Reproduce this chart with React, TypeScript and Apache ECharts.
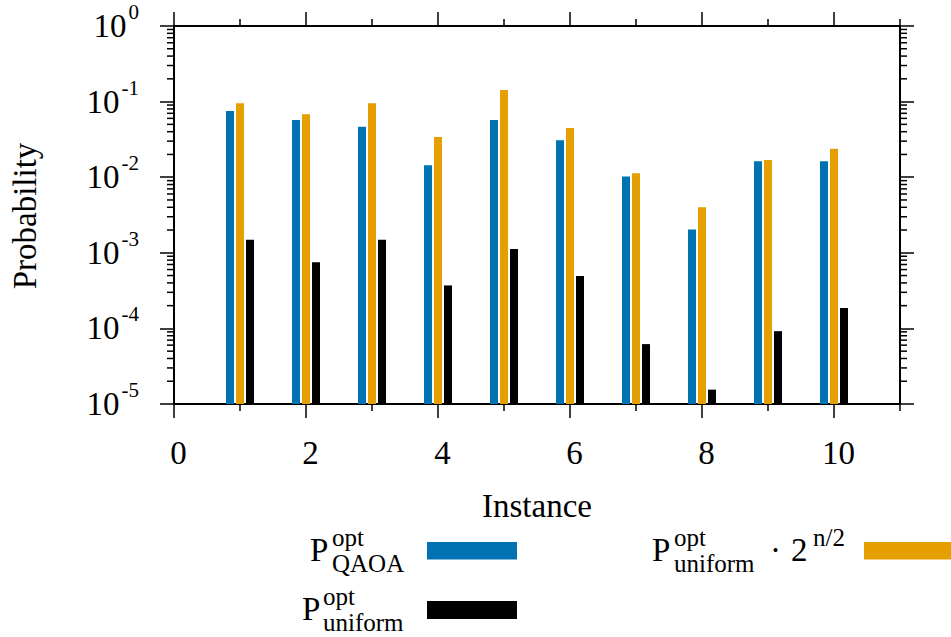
import React, { useEffect, useRef } from "react";
import * as echarts from "echarts";

const instances = [1, 2, 3, 4, 5, 6, 7, 8, 9, 10];
const pQaoa = [0.075, 0.057, 0.0466, 0.0144, 0.057, 0.0308, 0.0102, 0.00204, 0.0162, 0.0162];
const pUniformScaled = [0.095, 0.068, 0.095, 0.034, 0.142, 0.0448, 0.0113, 0.004, 0.0169, 0.0238];
const pUniform = [1.49e-3, 7.5e-4, 1.49e-3, 3.7e-4, 1.12e-3, 4.93e-4, 6.2e-5, 1.55e-5, 9.2e-5, 1.86e-4];
const xMajorTicks = [0, 2, 4, 6, 8, 10];
const xMinorTicks = [1, 3, 5, 7, 9, 11];
const yDecades = [-5, -4, -3, -2, -1];
const yMinorMultipliers = [2, 3, 4, 5, 6, 7, 8, 9];

const FONT = "'Liberation Serif', 'Times New Roman', serif";
const BLUE = "#0072B2";
const ORANGE = "#E69F00";
const BLACK = "#000000";

export default function App() {
  const ref = useRef<HTMLDivElement>(null);
  useEffect(() => {
    if (!ref.current) return;
    const chart = echarts.init(ref.current, null, { renderer: "svg" });

    // minor tick marks data: [x, y, side]
    const tickData: number[][] = [];
    yDecades.forEach((e) => {
      yMinorMultipliers.forEach((m) => {
        const v = m * Math.pow(10, e);
        tickData.push([0, v, 0]);
        tickData.push([11, v, 1]);
      });
    });
    xMinorTicks.forEach((x) => {
      tickData.push([x, 1e-5, 2]);
      tickData.push([x, 1, 3]);
    });

    const barSeries = (name: string, vals: number[], color: string) => ({
      name,
      type: "bar",
      xAxisIndex: 0,
      yAxisIndex: 0,
      barWidth: 8,
      barGap: "25%",
      data: instances.map((x, i) => [x, vals[i]]),
      itemStyle: { color },
    });

    const axisLineStyle = { color: "#000", width: 2 };

    const option: any = {
      animation: false,
      grid: { left: 174, top: 26, right: 51, bottom: 233, containLabel: false, outerBoundsMode: "none" },
      xAxis: [
        {
          type: "value",
          position: "bottom",
          min: 0,
          max: 11,
          interval: 2,
          axisLine: { show: true, onZero: false, lineStyle: axisLineStyle },
          axisTick: { show: true, inside: false, length: 14, lineStyle: { color: "#000", width: 1.5 }, customValues: xMajorTicks },
          axisLabel: {
            show: true,
            customValues: xMajorTicks,
            margin: 32,
            padding: [0, 0, 0, 9],
            color: "#000",
            fontFamily: FONT,
            fontSize: 33,
            formatter: (v: number) => (v % 2 === 0 ? String(v) : ""),
          },
          splitLine: { show: false },
        },
        {
          type: "value",
          position: "top",
          min: 0,
          max: 11,
          interval: 2,
          axisLine: { show: true, onZero: false, lineStyle: axisLineStyle },
          axisTick: { show: true, inside: false, length: 14, lineStyle: { color: "#000", width: 1.5 }, customValues: xMajorTicks },
          axisLabel: { show: false },
          splitLine: { show: false },
        },
      ],
      yAxis: [
        {
          type: "log",
          logBase: 10,
          position: "left",
          min: 1e-5,
          max: 1,
          startValue: 1e-5,
          axisLine: { show: true, onZero: false, lineStyle: axisLineStyle },
          axisTick: { show: true, inside: false, length: 14, lineStyle: { color: "#000", width: 1.5 } },
          axisLabel: {
            show: true,
            margin: 35,
            color: "#000",
            formatter: (v: number) => `{b|10}{s|${Math.round(Math.log10(v))}}`,
            rich: {
              b: { fontFamily: FONT, fontSize: 33, lineHeight: 49, color: "#000" },
              s: { fontFamily: FONT, fontSize: 21, verticalAlign: "top", color: "#000", padding: [0, 0, 0, 2] },
            },
          },
          splitLine: { show: false },
        },
        {
          type: "log",
          logBase: 10,
          position: "right",
          min: 1e-5,
          max: 1,
          startValue: 1e-5,
          axisLine: { show: true, onZero: false, lineStyle: axisLineStyle },
          axisTick: { show: true, inside: false, length: 14, lineStyle: { color: "#000", width: 1.5 } },
          axisLabel: { show: false },
          splitLine: { show: false },
        },
      ],
      series: [
        barSeries("P_QAOA^opt", pQaoa, BLUE),
        barSeries("P_uniform^opt · 2^(n/2)", pUniformScaled, ORANGE),
        barSeries("P_uniform^opt", pUniform, BLACK),
        {
          type: "custom",
          xAxisIndex: 0,
          yAxisIndex: 0,
          clip: false,
          silent: true,
          z: 5,
          encode: { x: 0, y: 1 },
          data: tickData,
          renderItem: (params: any, api: any) => {
            const x = api.value(0);
            const y = api.value(1);
            const side = api.value(2);
            const p = api.coord([x, y]);
            let shape;
            if (side === 0) shape = { x1: p[0] - 7, y1: p[1], x2: p[0], y2: p[1] };
            else if (side === 1) shape = { x1: p[0], y1: p[1], x2: p[0] + 7, y2: p[1] };
            else if (side === 2) shape = { x1: p[0], y1: p[1], x2: p[0], y2: p[1] + 7 };
            else shape = { x1: p[0], y1: p[1] - 7, x2: p[0], y2: p[1] };
            return { type: "line", shape, style: { stroke: "#000", lineWidth: 1.5 } };
          },
        },
      ],
      graphic: [
        { type: "text", x: 25, y: 216, rotation: Math.PI / 2, style: { text: "Probability", font: `33px ${FONT}`, fill: "#000", align: "center", verticalAlign: "middle" } },
        { type: "text", x: 537, y: 505.6, style: { text: "Instance", font: `33px ${FONT}`, fill: "#000", align: "center", verticalAlign: "middle" } },
        // legend entry 1
        { type: "text", x: 310, y: 549.8, style: { text: "P", font: `33px ${FONT}`, fill: "#000", align: "left", verticalAlign: "middle" } },
        { type: "text", x: 332, y: 537.3, style: { text: "opt", font: `25px ${FONT}`, fill: "#000", align: "left", verticalAlign: "middle" } },
        { type: "text", x: 332, y: 563.6, style: { text: "QAOA", font: `25px ${FONT}`, fill: "#000", align: "left", verticalAlign: "middle" } },
        { type: "rect", shape: { x: 427, y: 542, width: 90, height: 17.5 }, style: { fill: BLUE } },
        // legend entry 2
        { type: "text", x: 302, y: 608.8, style: { text: "P", font: `33px ${FONT}`, fill: "#000", align: "left", verticalAlign: "middle" } },
        { type: "text", x: 323, y: 596.3, style: { text: "opt", font: `25px ${FONT}`, fill: "#000", align: "left", verticalAlign: "middle" } },
        { type: "text", x: 323, y: 622.6, style: { text: "uniform", font: `25px ${FONT}`, fill: "#000", align: "left", verticalAlign: "middle" } },
        { type: "rect", shape: { x: 427, y: 601, width: 90, height: 18 }, style: { fill: BLACK } },
        // legend entry 3
        { type: "text", x: 652, y: 549.8, style: { text: "P", font: `33px ${FONT}`, fill: "#000", align: "left", verticalAlign: "middle" } },
        { type: "text", x: 674, y: 537.3, style: { text: "opt", font: `25px ${FONT}`, fill: "#000", align: "left", verticalAlign: "middle" } },
        { type: "text", x: 674, y: 563.6, style: { text: "uniform", font: `25px ${FONT}`, fill: "#000", align: "left", verticalAlign: "middle" } },
        { type: "text", x: 770, y: 549.8, style: { text: "·", font: `33px ${FONT}`, fill: "#000", align: "left", verticalAlign: "middle" } },
        { type: "text", x: 791, y: 549.8, style: { text: "2", font: `33px ${FONT}`, fill: "#000", align: "left", verticalAlign: "middle" } },
        { type: "text", x: 813, y: 537.3, style: { text: "n/2", font: `25px ${FONT}`, fill: "#000", align: "left", verticalAlign: "middle" } },
        { type: "rect", shape: { x: 864, y: 542, width: 90, height: 17.5 }, style: { fill: ORANGE } },
      ],
    };
    chart.setOption(option);
    return () => chart.dispose();
  }, []);
  return <div ref={ref} style={{ position: "absolute", left: 0, top: 0, width: 951, height: 637 }} />;
}
